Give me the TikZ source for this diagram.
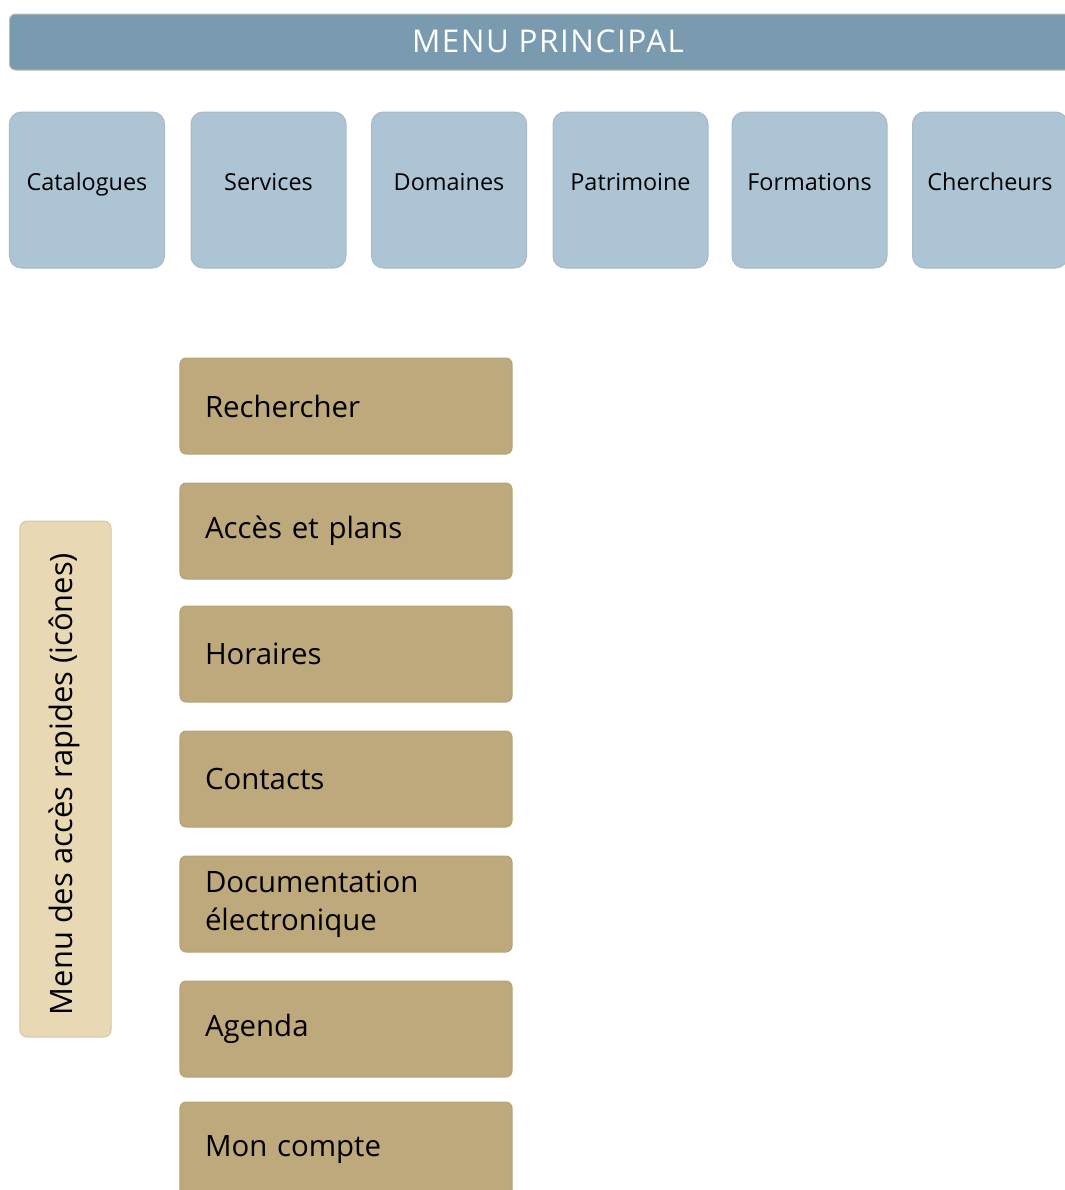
\documentclass[tikz,border=0pt]{standalone}
\usepackage{fontspec}
\setmainfont{Open Sans}
\definecolor{barblue}{HTML}{7A9AB0}
\definecolor{boxblue}{HTML}{ADC4D5}
\definecolor{boxtan}{HTML}{BEA97C}
\definecolor{paletan}{HTML}{E8D9B4}
\begin{document}
\begin{tikzpicture}[x=1bp,y=-1bp,
  bar/.style={draw=gray!55, line width=1bp, fill=barblue, rounded corners=6bp,
    minimum width=1080bp, minimum height=56bp, inner sep=0pt},
  menubox/.style={draw=boxblue!85!gray, line width=1bp, fill=boxblue, rounded corners=12bp,
    minimum width=155bp, minimum height=156bp, inner sep=0pt,
    font=\fontsize{23.5}{27}\selectfont, text height=17bp, text depth=17bp},
  quickbox/.style={draw=boxtan!85!gray, line width=1bp, fill=boxtan, rounded corners=6bp,
    minimum width=332bp, minimum height=96bp, inner xsep=25bp, inner ysep=0pt,
    text width=282bp, align=left, font=\fontsize{29.5}{38}\selectfont},
  sidebox/.style={draw=paletan!80!gray, line width=1bp, fill=paletan, rounded corners=7bp,
    minimum width=516bp, minimum height=91bp, inner sep=0pt,
    font=\fontsize{31}{36}\selectfont}
]
\useasboundingbox (0,0) rectangle (1065,1190);
\node[bar, anchor=west] (menu) at (9,42) {};
\node[text=white, font=\fontsize{31.5}{36}\selectfont\addfontfeature{LetterSpace=5}] (menutxt) at (548,41) {MENU PRINCIPAL};
\node[menubox] (cat) at (87,190) {Catalogues};
\node[menubox] (ser) at (268.5,190) {Services};
\node[menubox] (dom) at (449,190) {Domaines};
\node[menubox] (pat) at (630.5,190) {Patrimoine};
\node[menubox] (for) at (809.5,190) {Formations};
\node[menubox] (che) at (990,190) {Chercheurs};
\node[quickbox] (rec) at (346,406) {Rechercher};
\node[quickbox] (acc) at (346,531) {Accès et plans};
\node[quickbox] (hor) at (346,654) {Horaires};
\node[quickbox] (con) at (346,779) {Contacts};
\node[quickbox] (doc) at (346,904) {Documentation\\électronique};
\node[quickbox] (age) at (346,1029) {Agenda};
\node[quickbox] (mon) at (346,1150) {Mon compte};
\node[sidebox, rotate=90] (side) at (65.5,779) {};
\node[rotate=90, font=\fontsize{31}{36}\selectfont] (sidetxt) at (64,784) {Menu des accès rapides (icônes)};
\end{tikzpicture}
\end{document}
